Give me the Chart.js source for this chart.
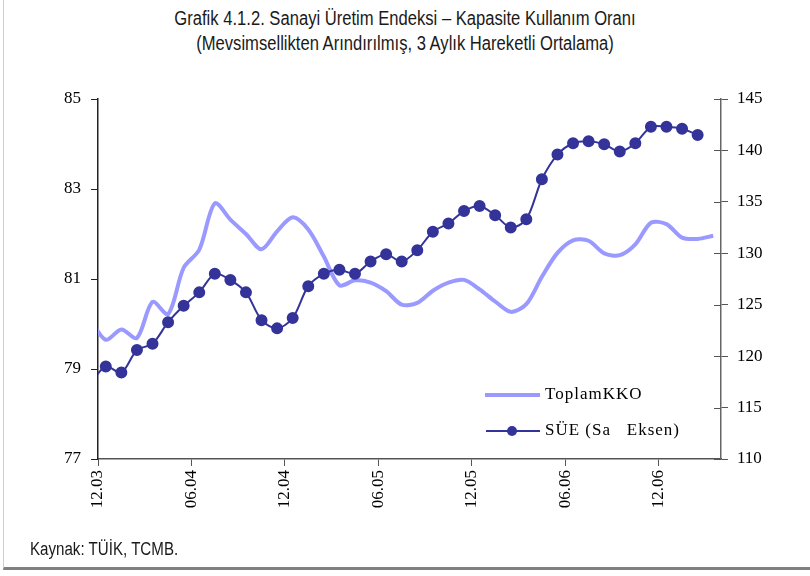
<!DOCTYPE html>
<html>
<head>
<meta charset="utf-8">
<script src="https://cdn.jsdelivr.net/npm/chart.js"></script>
<style>
  body { margin: 0; background: #fff; }
  #wrap { position: relative; width: 810px; height: 576px; overflow: hidden; }
  #kkoChart { position: absolute; left: 0; top: 0; }
  .frame { position: absolute; left: 3px; top: 0; width: 807px; height: 567px; border-left: 1px solid #d0d0d0; border-bottom: 3px solid #808080; }
  .title { position: absolute; left: 0; width: 810px; text-align: center; font-family: "Liberation Sans", Arial, sans-serif; font-size: 20px; color: #1a1a1a; line-height: 25px; top: 6px; transform: scaleX(0.83); transform-origin: 405px 0; }
  .source { position: absolute; left: 30px; top: 539px; font-family: "Liberation Sans", Arial, sans-serif; font-size: 18px; color: #1a1a1a; transform: scaleX(0.84); transform-origin: 0 0; white-space: nowrap; }
</style>
</head>
<body>
<div id="wrap">
  <div class="frame"></div>
  <div class="title">Grafik 4.1.2. Sanayi Üretim Endeksi – Kapasite Kullanım Oranı<br>(Mevsimsellikten Arındırılmış, 3 Aylık Hareketli Ortalama)</div>
  <canvas id="kkoChart" width="810" height="576"></canvas>
  <div class="source">Kaynak: TÜİK, TCMB.</div>
</div>
<script>
  // monthly points, first one (11.03) sits just left of the plot and gets clipped
  const months = ['11.03', '12.03',
    '01.04', '02.04', '03.04', '04.04', '05.04', '06.04', '07.04', '08.04', '09.04', '10.04', '11.04', '12.04',
    '01.05', '02.05', '03.05', '04.05', '05.05', '06.05', '07.05', '08.05', '09.05', '10.05', '11.05', '12.05',
    '01.06', '02.06', '03.06', '04.06', '05.06', '06.06', '07.06', '08.06', '09.06', '10.06', '11.06', '12.06',
    '01.07', '02.07', '03.07'];

  const kkoValues = [80.1, 79.65, 79.88, 79.69, 80.49, 80.22, 81.25, 81.65, 82.68, 82.32,
    82.0, 81.66, 82.06, 82.37, 82.1, 81.5, 80.86, 80.97, 80.92, 80.73,
    80.43, 80.47, 80.74, 80.92, 80.98, 80.77, 80.5, 80.27, 80.44, 81.05,
    81.58, 81.86, 81.85, 81.57, 81.53, 81.77, 82.25, 82.22, 81.92, 81.89, 81.96];

  const sueValues = [117.3, 119.0, 118.4, 120.6, 121.2, 123.3, 124.9, 126.2, 128.0, 127.4,
    126.2, 123.5, 122.7, 123.7, 126.8, 128.0, 128.4, 128.0, 129.2, 129.9,
    129.2, 130.3, 132.1, 132.9, 134.1, 134.6, 133.7, 132.5, 133.3, 137.2,
    139.6, 140.7, 140.9, 140.6, 139.9, 140.7, 142.3, 142.3, 142.1, 141.5, null];

  const tickLabels = ['12.03', '06.04', '12.04', '06.05', '12.05', '06.06', '12.06'];

  const lightBlue = '#9999ff';
  const darkBlue = '#333399';
  const serif = '"Liberation Serif", "Times New Roman", serif';

  // each month is centred between its own tick and the next one
  const toPoints = vals => vals.map((v, i) => ({ x: i - 0.5, y: v }));

  const legendBox = {
    id: 'legendBox',
    afterDraw(chart) {
      const c = chart.ctx;
      c.save();
      c.font = '17px ' + serif;
      c.fillStyle = '#000';
      c.textBaseline = 'middle';
      c.letterSpacing = '1px';

      c.strokeStyle = lightBlue;
      c.lineWidth = 4;
      c.beginPath();
      c.moveTo(485, 395);
      c.lineTo(540, 395);
      c.stroke();
      c.fillText('ToplamKKO', 545, 395);

      c.strokeStyle = darkBlue;
      c.lineWidth = 2;
      c.beginPath();
      c.moveTo(486, 431);
      c.lineTo(540, 431);
      c.stroke();
      c.fillStyle = darkBlue;
      c.beginPath();
      c.arc(512, 431, 5, 0, Math.PI * 2);
      c.fill();
      c.fillStyle = '#000';
      c.fillText('SÜE (Sa   Eksen)', 545, 431);

      // right axis ticks cross the axis line
      const y2 = chart.scales.y2;
      c.strokeStyle = '#555';
      c.lineWidth = 1;
      y2.ticks.forEach(t => {
        const y = Math.round(y2.getPixelForValue(t.value)) + 0.5;
        c.beginPath();
        c.moveTo(y2.left - 7, y);
        c.lineTo(y2.left, y);
        c.stroke();
      });
      c.restore();
    }
  };

  const ctx = document.getElementById('kkoChart').getContext('2d');
  const chart = new Chart(ctx, {
    type: 'line',
    data: {
      datasets: [
        {
          label: 'SÜE (Sa   Eksen)',
          data: toPoints(sueValues),
          yAxisID: 'y2',
          borderColor: darkBlue,
          borderWidth: 2,
          backgroundColor: darkBlue,
          pointBackgroundColor: darkBlue,
          pointBorderColor: darkBlue,
          pointRadius: c => c.dataIndex === 0 ? 0 : 5,
          tension: 0.3,
          order: 0
        },
        {
          label: 'ToplamKKO',
          data: toPoints(kkoValues),
          yAxisID: 'y',
          borderColor: lightBlue,
          borderWidth: 4,
          pointRadius: 0,
          tension: 0.3,
          order: 1
        }
      ]
    },
    options: {
      responsive: false,
      animation: false,
      layout: { padding: { top: 99, left: 0, right: 0, bottom: 0 } },
      plugins: {
        legend: { display: false },
        tooltip: { enabled: false }
      },
      scales: {
        x: {
          type: 'linear',
          position: 'bottom',
          min: 0,
          max: 40,
          afterBuildTicks: s => { s.ticks = tickLabels.map(l => ({ value: months.indexOf(l) - 1 })); },
          afterFit: s => { s.height = 117; },
          grid: { drawOnChartArea: false, tickLength: 7, color: '#555' },
          border: { color: '#555', width: 1.5 },
          ticks: {
            autoSkip: false,
            minRotation: 90,
            maxRotation: 90,
            padding: 4,
            color: '#000',
            font: { family: serif, size: 17 },
            callback: (v, i) => tickLabels[i]
          }
        },
        y: {
          position: 'left',
          min: 77,
          max: 85,
          afterFit: s => { s.width = 98; },
          grid: { drawOnChartArea: false, tickLength: 7, color: '#222' },
          border: { color: '#222', width: 1.5 },
          ticks: { stepSize: 2, padding: 10, color: '#000', font: { family: serif, size: 17 } }
        },
        y2: {
          position: 'right',
          min: 110,
          max: 145,
          afterFit: s => { s.width = 89; },
          grid: { drawOnChartArea: false, tickLength: 7, color: '#555' },
          border: { color: '#666', width: 1.5 },
          ticks: { stepSize: 5, padding: 9, color: '#000', font: { family: serif, size: 17 } }
        }
      }
    },
    plugins: [legendBox]
  });
</script>
</body>
</html>
